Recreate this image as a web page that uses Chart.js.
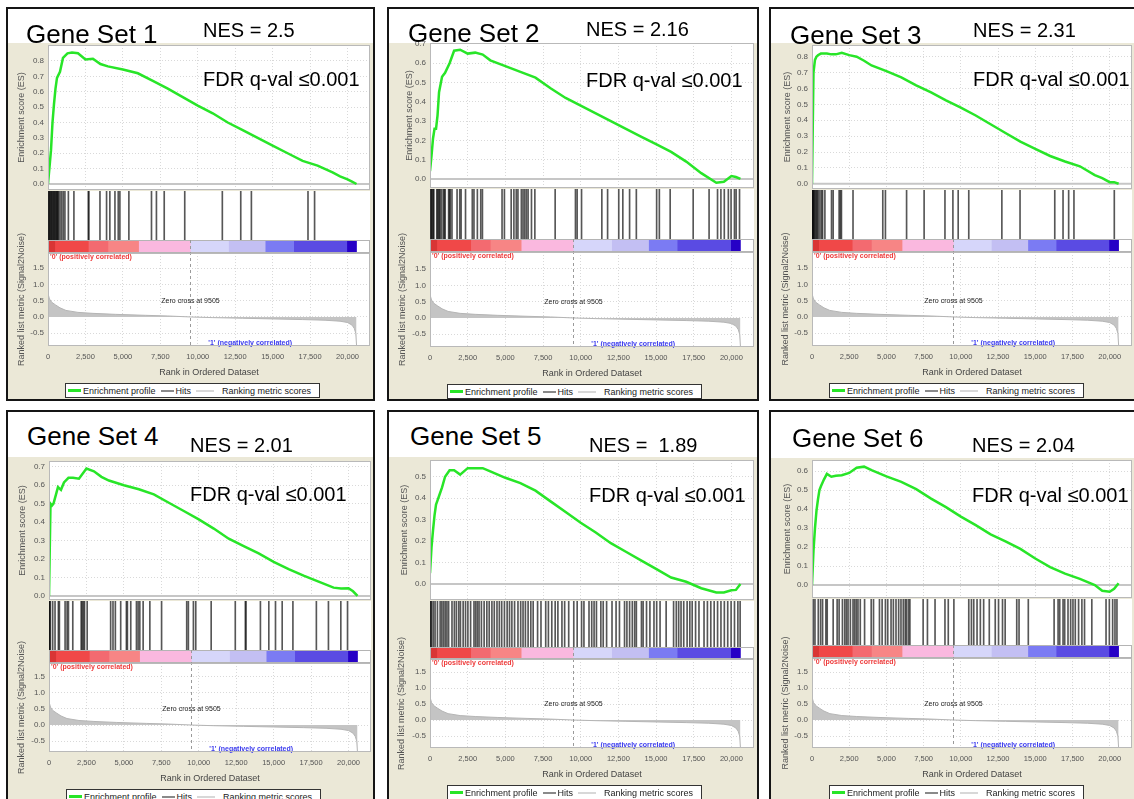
<!DOCTYPE html>
<html>
<head>
<meta charset="utf-8">
<title>GSEA enrichment plots</title>
<script src="https://cdn.jsdelivr.net/npm/chart.js"></script>
<style>
  html, body { margin: 0; padding: 0; background: #fff; }
  #fig { position: relative; width: 1134px; height: 799px; overflow: hidden; font-family: "Liberation Sans", Arial, sans-serif; }
  .panel { position: absolute; border: 2px solid #151515; box-sizing: border-box; background: #fff; }
  .beige { position: absolute; background: #ebe8d7; }
  canvas { position: absolute; }
  .txt { position: absolute; white-space: pre; line-height: 1; color: #000; z-index: 5; }
  .legend { position: absolute; z-index: 4; height: 15px; width: 255px; box-sizing: border-box; border: 1px solid #333; background: #fff;
            display: flex; align-items: center; font-size: 9px; color: #222; white-space: pre; padding-left: 2px; }
  .legend i { display: inline-block; width: 13px; margin-right: 2px; }
  .legend span { margin-right: 5px; }
</style>
</head>
<body>
<div id="fig"></div>
<script>
// ---- data ----
const geneSets = ['Gene Set 1', 'Gene Set 2', 'Gene Set 3', 'Gene Set 4', 'Gene Set 5', 'Gene Set 6'];
const nesLabels = ['NES = 2.5', 'NES = 2.16', 'NES = 2.31', 'NES = 2.01', 'NES =  1.89', 'NES = 2.04'];
const fdrLabel = 'FDR q-val \u22640.001';

// running enrichment score, sampled at these ranks
const esRanks = [0, 100, 200, 300, 400, 500, 600, 800, 1000, 1300, 1600, 2000, 2500, 3000, 3500, 4000, 5000, 6000,
  7000, 8000, 9000, 10000, 11000, 12000, 13000, 14000, 15000, 16000, 17000, 18000, 19000, 19500, 20000, 20300, 20600];
const es1 = [0, 0.11, 0.22, 0.40, 0.52, 0.62, 0.69, 0.73, 0.82, 0.85, 0.855, 0.85, 0.81, 0.815, 0.78, 0.765, 0.745, 0.72,
  0.67, 0.62, 0.565, 0.51, 0.46, 0.40, 0.35, 0.30, 0.25, 0.20, 0.15, 0.12, 0.075, 0.05, 0.03, 0.015, 0.0];
const es2 = [0.04, 0.12, 0.21, 0.26, 0.26, 0.33, 0.45, 0.53, 0.55, 0.60, 0.665, 0.67, 0.65, 0.655, 0.645, 0.615, 0.585, 0.555,
  0.525, 0.47, 0.42, 0.38, 0.34, 0.30, 0.26, 0.22, 0.18, 0.14, 0.09, 0.03, -0.02, -0.015, 0.015, 0.01, 0.0];
const es3 = [0.0, 0.70, 0.78, 0.80, 0.81, 0.815, 0.82, 0.82, 0.82, 0.815, 0.815, 0.825, 0.81, 0.80, 0.775, 0.745, 0.71, 0.67,
  0.62, 0.575, 0.525, 0.48, 0.43, 0.375, 0.32, 0.265, 0.22, 0.175, 0.14, 0.11, 0.055, 0.035, 0.01, 0.01, 0.0];
const es4 = [0.0, 0.50, 0.49, 0.50, 0.53, 0.56, 0.59, 0.575, 0.615, 0.64, 0.64, 0.635, 0.69, 0.675, 0.645, 0.625, 0.60, 0.578,
  0.55, 0.505, 0.46, 0.415, 0.365, 0.31, 0.27, 0.23, 0.185, 0.145, 0.11, 0.078, 0.045, 0.04, 0.042, 0.025, 0.0];
const es5 = [0.05, 0.17, 0.25, 0.32, 0.37, 0.39, 0.41, 0.45, 0.50, 0.53, 0.53, 0.51, 0.54, 0.54, 0.54, 0.525, 0.495, 0.47,
  0.435, 0.385, 0.335, 0.285, 0.24, 0.19, 0.15, 0.11, 0.07, 0.03, 0.01, -0.02, -0.04, -0.04, -0.03, -0.028, 0.0];
const es6 = [0.0, 0.18, 0.30, 0.39, 0.45, 0.50, 0.52, 0.555, 0.585, 0.57, 0.575, 0.578, 0.59, 0.617, 0.623, 0.605, 0.572, 0.543,
  0.505, 0.455, 0.41, 0.36, 0.315, 0.267, 0.23, 0.19, 0.14, 0.095, 0.06, 0.033, 0.0, -0.03, -0.035, -0.02, 0.01];

// positions of gene-set members in the ranked list
const hits1 = [20, 60, 90, 130, 180, 220, 260, 310, 360, 400, 440, 490, 540, 580, 620, 660, 700, 800, 910, 1020, 1130,
  1360, 1730, 2690, 2730, 3470, 3910, 4130, 4470, 4690, 4800, 5400, 6910, 7240, 7760, 9130, 11640, 12870, 13580, 17360, 17800];
const hits2 = [30, 80, 112, 170, 224, 250, 449, 500, 561, 620, 673, 780, 898, 950, 1010, 1235, 1290, 1347, 1459, 1796, 1975,
  2065, 2357, 2806, 2918, 3143, 3367, 3479, 4781, 4938, 5387, 5567, 5724, 5836, 6061, 6173, 6285, 6397, 6510, 6734, 6958,
  8305, 9652, 9764, 10056, 11403, 11785, 12525, 12795, 13244, 13692, 15039, 15219, 15937, 17464, 18519, 19080, 19304,
  19529, 19798, 19978, 20202, 20314, 20539];
const hits3 = [5, 15, 25, 35, 45, 60, 75, 100, 133, 180, 244, 300, 356, 422, 533, 645, 711, 866, 1311, 1422, 1822, 1911,
  1978, 2756, 4756, 4933, 6355, 7533, 8933, 9467, 9822, 10533, 12756, 13978, 16311, 16867, 17244, 17600, 20311];
const hits4 = [8, 25, 45, 89, 246, 403, 626, 694, 1074, 1208, 1298, 1588, 2148, 2215, 2304, 2371, 2550, 4116, 4273, 4430,
  4787, 5168, 5235, 5459, 5839, 5951, 6063, 6286, 6734, 7517, 9195, 9306, 9642, 9799, 10828, 12438, 13110, 13154, 14116,
  14676, 15123, 15570, 16286, 17852, 18658, 19485, 19933];
const hits5 = [20, 60, 112, 224, 337, 494, 673, 786, 898, 1010, 1122, 1235, 1459, 1616, 1751, 1908, 2020, 2200, 2357, 2514,
  2694, 2918, 3031, 3143, 3255, 3412, 3592, 3772, 3929, 4108, 4265, 4445, 4602, 4759, 4939, 5119, 5276, 5433, 5612, 5837,
  6017, 6174, 6331, 6510, 6690, 6847, 7139, 7364, 7678, 7857, 8082, 8306, 8486, 8755, 8935, 9204, 9541, 9766, 10058, 10215,
  10551, 10731, 10888, 11045, 11337, 11494, 11719, 12078, 12347, 12572, 12909, 13066, 13245, 13425, 13582, 13694, 14031,
  14143, 14368, 14593, 14862, 15042, 15266, 15670, 16164, 16344, 16501, 16658, 16837, 17062, 17242, 17399, 17623, 17848,
  18184, 18409, 18633, 18858, 19083, 19307, 19532, 19756, 19981, 20205, 20430, 20580];
const hits6 = [89, 200, 422, 578, 711, 933, 1022, 1422, 1689, 1822, 2044, 2200, 2311, 2422, 2578, 2756, 2867, 2978, 3089,
  3244, 3533, 3978, 4133, 4533, 4711, 4933, 5089, 5311, 5467, 5644, 5822, 5978, 6133, 6267, 6356, 6489, 6578, 7467, 7756,
  8267, 8933, 9156, 9533, 10533, 10711, 10867, 11089, 11311, 11533, 11911, 12311, 12533, 12800, 12978, 13756, 13911, 14533,
  16267, 16533, 16644, 16867, 16978, 17200, 17378, 17533, 17689, 17911, 18133, 18311, 18800, 19756, 19978, 20200, 20356, 20489];

// ranked list metric (same ranked dataset in every panel)
const metricRanks = [0, 100, 250, 500, 800, 1200, 2000, 3000, 4500, 6500, 8000, 9505, 11000, 13000, 15000, 17000, 18500,
  19500, 20000, 20300, 20450, 20550, 20600];
const metricScores = [0.72, 0.55, 0.45, 0.37, 0.28, 0.2, 0.14, 0.11, 0.08, 0.05, 0.03, 0, -0.02, -0.04, -0.06, -0.08, -0.1,
  -0.13, -0.17, -0.25, -0.35, -0.5, -0.86];
const zeroCross = 9505;

// red-to-blue heat strip
const colorBarBounds = [0, 450, 2700, 4000, 6050, 9500, 12050, 14500, 16400, 19950, 20600];
const colorBarColors = ['#d93535', '#f04848', '#f36a70', '#f78585', '#fab8df', '#d6d6fa', '#c3bff3', '#7b7bf3', '#5a4be3', '#2600c6'];

const xTicks = [0, 2500, 5000, 7500, 10000, 12500, 15000, 17500, 20000];
const esTickValues = [0, 0.1, 0.2, 0.3, 0.4, 0.5, 0.6, 0.7, 0.8];
const metricTicks = [-0.5, 0, 0.5, 1.0, 1.5];
const xMax = 21500;

const esSeries = [es1, es2, es3, es4, es5, es6];
const hitSeries = [hits1, hits2, hits3, hits4, hits5, hits6];

// ---- layout of the six panels (page pixels) ----
const panels = [
  {box: [6, 7, 369, 394], beigeTop: 43, plotL: 48, plotR: 370, esTop: 45, esBot: 190, esMin: -0.039, esMax: 0.904,
   hitsTop: 191, barTop: 240, barBot: 252, metTop: 253, metBot: 346, metMin: -0.89, metMax: 1.96,
   esTitleX: 22, metTitleX: 22, title: [26, 43], nes: [203, 37], fdr: [203, 86]},
  {box: [387, 7, 372, 394], beigeTop: 43, plotL: 430, plotR: 754, esTop: 43, esBot: 188, esMin: -0.047, esMax: 0.705,
   hitsTop: 189, barTop: 239, barBot: 251, metTop: 252, metBot: 347, metMin: -0.89, metMax: 2.02,
   esTitleX: 410, metTitleX: 403, title: [408, 42], nes: [586, 36], fdr: [586, 87]},
  {box: [769, 7, 370, 394], beigeTop: 43, plotL: 812, plotR: 1132, esTop: 45, esBot: 189, esMin: -0.033, esMax: 0.874,
   hitsTop: 190, barTop: 239, barBot: 251, metTop: 252, metBot: 346, metMin: -0.89, metMax: 1.99,
   esTitleX: 788, metTitleX: 786, title: [790, 44], nes: [973, 37], fdr: [973, 86]},
  {box: [6, 410, 369, 395], beigeTop: 457, plotL: 49, plotR: 371, esTop: 461, esBot: 600, esMin: -0.022, esMax: 0.731,
   hitsTop: 601, barTop: 650, barBot: 662, metTop: 663, metBot: 752, metMin: -0.83, metMax: 1.91,
   esTitleX: 23, metTitleX: 22, title: [27, 445], nes: [190, 452], fdr: [190, 501]},
  {box: [387, 410, 372, 395], beigeTop: 457, plotL: 430, plotR: 754, esTop: 460, esBot: 600, esMin: -0.075, esMax: 0.578,
   hitsTop: 601, barTop: 647, barBot: 658, metTop: 659, metBot: 748, metMin: -0.875, metMax: 1.91,
   esTitleX: 405, metTitleX: 402, title: [410, 445], nes: [589, 452], fdr: [589, 502]},
  {box: [769, 410, 370, 395], beigeTop: 458, plotL: 812, plotR: 1132, esTop: 460, esBot: 598, esMin: -0.068, esMax: 0.658,
   hitsTop: 599, barTop: 645, barBot: 657, metTop: 658, metBot: 748, metMin: -0.875, metMax: 1.94,
   esTitleX: 788, metTitleX: 786, title: [792, 447], nes: [972, 452], fdr: [972, 502]},
];

const FONT = '"Liberation Sans", Arial, sans-serif';
const fig = document.getElementById('fig');
Chart.defaults.font.family = FONT;
Chart.defaults.animation = false;

// white plot background + thin grey frame
const plotFrame = {
  id: 'plotFrame',
  beforeDraw(chart, args, opts) {
    const {ctx, chartArea: a} = chart;
    ctx.save();
    ctx.fillStyle = opts.fill || '#fff';
    ctx.fillRect(a.left, a.top, a.width, a.height);
    ctx.restore();
  },
  afterDraw(chart, args, opts) {
    if (!opts.stroke) return;
    const {ctx, chartArea: a} = chart;
    ctx.save();
    ctx.strokeStyle = opts.stroke;
    ctx.lineWidth = 1;
    ctx.strokeRect(a.left + 0.5, a.top + 0.5, a.width - 1, a.height - 1);
    ctx.restore();
  }
};

// zero-cross line and the little annotations of the ranked list plot
const metricNotes = {
  id: 'metricNotes',
  afterDatasetsDraw(chart, args, opts) {
    const {ctx, chartArea: a, scales: {x, y}} = chart;
    const zx = Math.round(x.getPixelForValue(zeroCross)) + 0.5;
    ctx.save();
    ctx.strokeStyle = '#9a9a9a';
    ctx.lineWidth = 1;
    ctx.setLineDash([3, 3]);
    ctx.beginPath();
    ctx.moveTo(zx, a.top - opts.above);
    ctx.lineTo(zx, a.bottom);
    ctx.stroke();
    ctx.setLineDash([]);
    ctx.textBaseline = 'middle';
    ctx.font = 'bold 7px ' + FONT;
    ctx.textAlign = 'left';
    ctx.fillStyle = '#ee3b3b';
    ctx.fillText("'0' (positively correlated)", a.left + 2, a.top + 4.5);
    ctx.fillStyle = '#3a3aee';
    ctx.fillText("'1' (negatively correlated)", x.getPixelForValue(10700), a.bottom - 3);
    ctx.font = '7px ' + FONT;
    ctx.fillStyle = '#222';
    ctx.textAlign = 'center';
    ctx.fillText('Zero cross at ' + zeroCross, zx, y.getPixelForValue(0.5));
    ctx.restore();
  }
};

function makeCanvas(x, y, w, h, z) {
  const c = document.createElement('canvas');
  c.width = w;
  c.height = h;
  c.style.cssText = `left:${x}px;top:${y}px;width:${w}px;height:${h}px;z-index:${z}`;
  fig.appendChild(c);
  return c;
}

function addDiv(cls, css, text) {
  const d = document.createElement('div');
  d.className = cls;
  d.style.cssText = css;
  if (text !== undefined) d.textContent = text;
  fig.appendChild(d);
  return d;
}

function addText(text, x, base, size) {
  addDiv('txt', `left:${x}px;top:${base - 0.847 * size}px;font-size:${size}px`, text);
}

const gridOpts = {color: '#d9d9d9', drawTicks: false};
const borderOpts = {display: false, dash: [1, 2]};
const noPad = s => { s.paddingTop = 0; s.paddingBottom = 0; s.paddingLeft = 0; s.paddingRight = 0; };

function esChart(p, es) {
  const left = p.box[0] + 2, top = p.esTop - 8, right = p.plotR + 2;
  const cv = makeCanvas(left, top, right - left, p.esBot - top, 2);
  new Chart(cv, {
    type: 'line',
    data: {
      datasets: [
        {data: esRanks.map((r, i) => ({x: r, y: es[i]})), borderColor: '#28e528', borderWidth: 2.5, pointRadius: 0, tension: 0},
        {data: [{x: 0, y: 0}, {x: xMax, y: 0}], borderColor: '#c6c6c6', borderWidth: 2, pointRadius: 0}
      ]
    },
    options: {
      responsive: false,
      devicePixelRatio: 1,
      layout: {padding: {top: p.esTop - top, right: right - p.plotR, bottom: 0, left: 0}},
      scales: {
        x: {
          type: 'linear', min: 0, max: xMax, offset: false,
          ticks: {display: false}, grid: gridOpts, border: borderOpts,
          afterBuildTicks: s => { s.ticks = xTicks.map(v => ({value: v})); },
          afterFit: s => { s.height = 0; noPad(s); }
        },
        y: {
          min: p.esMin, max: p.esMax,
          afterBuildTicks: s => { s.ticks = esTickValues.filter(v => v <= p.esMax + 1e-9).map(v => ({value: v})); },
          ticks: {font: {size: 8}, color: '#555', padding: 4, callback: v => Number(v).toFixed(1)},
          grid: gridOpts, border: borderOpts,
          title: {display: true, text: 'Enrichment score (ES)', font: {size: 9}, color: '#555',
                  padding: {top: p.esTitleX - left - 5.4, bottom: 0}},
          afterFit: s => { s.width = p.plotL - left; noPad(s); }
        }
      },
      plugins: {legend: {display: false}, tooltip: {enabled: false}, plotFrame: {fill: '#fff', stroke: '#b9b9b9'}}
    },
    plugins: [plotFrame]
  });
}

function hitsChart(p, hits) {
  const cv = makeCanvas(p.plotL, p.hitsTop, p.plotR - p.plotL, p.barTop - p.hitsTop, 2);
  new Chart(cv, {
    type: 'bar',
    data: {datasets: [{data: hits.map(r => ({x: r, y: 1})), backgroundColor: 'rgba(15,15,15,0.7)', borderWidth: 0, barThickness: 1}]},
    options: {
      responsive: false,
      devicePixelRatio: 1,
      layout: {padding: 0},
      scales: {
        x: {type: 'linear', min: 0, max: xMax, offset: false, display: false},
        y: {min: 0, max: 1, display: false}
      },
      plugins: {legend: {display: false}, tooltip: {enabled: false}, plotFrame: {fill: '#fff'}}
    },
    plugins: [plotFrame]
  });
}

function colorBarChart(p) {
  const cv = makeCanvas(p.plotL, p.barTop, p.plotR - p.plotL, p.barBot - p.barTop + 1, 2);
  new Chart(cv, {
    type: 'bar',
    data: {
      labels: [''],
      datasets: colorBarColors.map((c, i) => ({
        data: [[colorBarBounds[i], colorBarBounds[i + 1]]], backgroundColor: c, borderWidth: 0,
        grouped: false, barPercentage: 1, categoryPercentage: 1
      }))
    },
    options: {
      indexAxis: 'y',
      responsive: false,
      devicePixelRatio: 1,
      layout: {padding: 0},
      scales: {x: {type: 'linear', min: 0, max: xMax, offset: false, display: false}, y: {display: false}},
      plugins: {legend: {display: false}, tooltip: {enabled: false}, plotFrame: {fill: '#fff', stroke: '#b4b4b4'}}
    },
    plugins: [plotFrame]
  });
}

function metricChart(p) {
  const left = p.box[0] + 2, top = p.hitsTop, right = p.plotR + 2, bottom = p.metBot + 33;
  const cv = makeCanvas(left, top, right - left, bottom - top, 3);
  new Chart(cv, {
    type: 'line',
    data: {
      datasets: [{
        data: metricRanks.map((r, i) => ({x: r, y: metricScores[i]})),
        borderColor: '#b5b5b5', backgroundColor: '#c4c4c4', borderWidth: 1, pointRadius: 0, fill: 'origin', tension: 0
      }]
    },
    options: {
      responsive: false,
      devicePixelRatio: 1,
      layout: {padding: {top: p.metTop - top, right: right - p.plotR, bottom: 0, left: 0}},
      scales: {
        x: {
          type: 'linear', min: 0, max: xMax, offset: false,
          afterBuildTicks: s => { s.ticks = xTicks.map(v => ({value: v})); },
          ticks: {font: {size: 7.5}, color: '#555', padding: 6, maxRotation: 0, autoSkip: false,
                  callback: v => Number(v).toLocaleString('en-US')},
          grid: gridOpts, border: borderOpts,
          title: {display: true, text: 'Rank in Ordered Dataset', font: {size: 9}, color: '#444', padding: {top: 0, bottom: 1.5}},
          afterFit: s => { s.height = bottom - p.metBot; noPad(s); }
        },
        y: {
          min: p.metMin, max: p.metMax,
          afterBuildTicks: s => { s.ticks = metricTicks.map(v => ({value: v})); },
          ticks: {font: {size: 8}, color: '#555', padding: 4, callback: v => Number(v).toFixed(1)},
          grid: gridOpts, border: borderOpts,
          title: {display: true, text: 'Ranked list metric (Signal2Noise)', font: {size: 9}, color: '#555',
                  padding: {top: p.metTitleX - left - 5.4, bottom: 0}},
          afterFit: s => { s.width = p.plotL - left; noPad(s); }
        }
      },
      plugins: {
        legend: {display: false}, tooltip: {enabled: false},
        plotFrame: {fill: '#fff', stroke: '#b9b9b9'},
        metricNotes: {above: p.metTop - p.barTop}
      }
    },
    plugins: [plotFrame, metricNotes]
  });
}

function legendBox(p) {
  const lg = addDiv('legend', `left:${p.plotL + 17}px;top:${p.metBot + 37}px`);
  lg.innerHTML =
    '<i style="border-top:3px solid #28e528"></i><span>Enrichment profile</span>' +
    '<i style="border-top:2px solid #8a8a8a"></i><span>Hits</span>' +
    '<i style="border-top:2px solid #d8d8d8;width:18px;margin-right:8px"></i><span>Ranking metric scores</span>';
}

panels.forEach((p, i) => {
  const [bx, by, bw, bh] = p.box;
  addDiv('panel', `left:${bx}px;top:${by}px;width:${bw}px;height:${bh}px`);
  addDiv('beige', `left:${bx + 2}px;top:${p.beigeTop}px;width:${bw - 4}px;height:${by + bh - 2 - p.beigeTop}px;z-index:1`);
  esChart(p, esSeries[i]);
  hitsChart(p, hitSeries[i]);
  colorBarChart(p);
  metricChart(p);
  legendBox(p);
  addText(geneSets[i], p.title[0], p.title[1], 26);
  addText(nesLabels[i], p.nes[0], p.nes[1], 20);
  addText(fdrLabel, p.fdr[0], p.fdr[1], 20);
});
</script>
</body>
</html>
